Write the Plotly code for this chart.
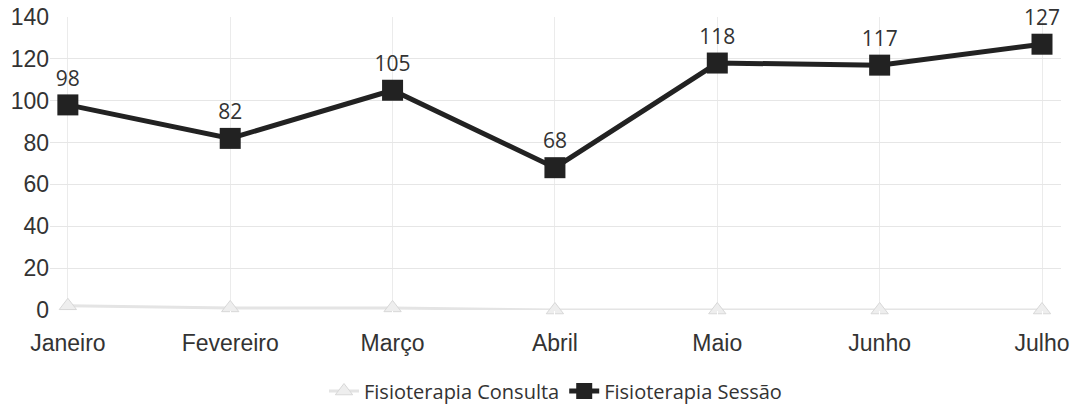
import plotly.graph_objects as go

meses = ['Janeiro', 'Fevereiro', 'Março', 'Abril', 'Maio', 'Junho', 'Julho']
consulta = [2, 1, 1, 0, 0, 0, 0]
sessao = [98, 82, 105, 68, 118, 117, 127]

fig = go.Figure()

# Consulta: faint grey line with triangles, almost on the zero line
fig.add_trace(go.Scatter(
    x=meses, y=consulta, name='Fisioterapia Consulta',
    mode='lines+markers', cliponaxis=False,
    line=dict(color='#e4e4e4', width=3),
    marker=dict(symbol='triangle-up', size=15, color='#eeeeee',
                line=dict(color='#d8d8d8', width=1)),
))

# Sessão: heavy black line with square markers and value labels
fig.add_trace(go.Scatter(
    x=meses, y=sessao, name='Fisioterapia Sessão',
    mode='lines+markers+text', cliponaxis=False,
    text=[str(v) for v in sessao], textposition='top center',
    textfont=dict(family='Open Sans, sans-serif', size=21, color='#333'),
    line=dict(color='#222222', width=5),
    marker=dict(symbol='square', size=21, color='#222222'),
))

fig.update_layout(
    width=1076, height=412,
    margin=dict(l=50, r=15, t=17, b=102, autoexpand=False),
    paper_bgcolor='white', plot_bgcolor='white',
    font=dict(family='Liberation Sans, Arial, sans-serif', size=23, color='#333'),
    showlegend=True,
    legend=dict(orientation='h', x=0.5, xanchor='center', y=-0.21, yanchor='top',
                font=dict(family='Open Sans, sans-serif', size=20, color='#333')),
    xaxis=dict(range=[-0.11, 6.117], showgrid=True, gridcolor='#ebebeb',
               ticks='outside', ticklen=12, tickcolor='white',
               ticklabeloverflow='allow', automargin=False,
               showline=False, zeroline=False),
    yaxis=dict(range=[0, 140], dtick=20, showgrid=True, gridcolor='#e6e6e6',
               automargin=False, zeroline=False, showline=False),
)

# drop the default page margin so the 1076px figure fills the window
fig.write_html('out.html', config={'displayModeBar': False},
               post_script="document.body.style.margin='0';")
